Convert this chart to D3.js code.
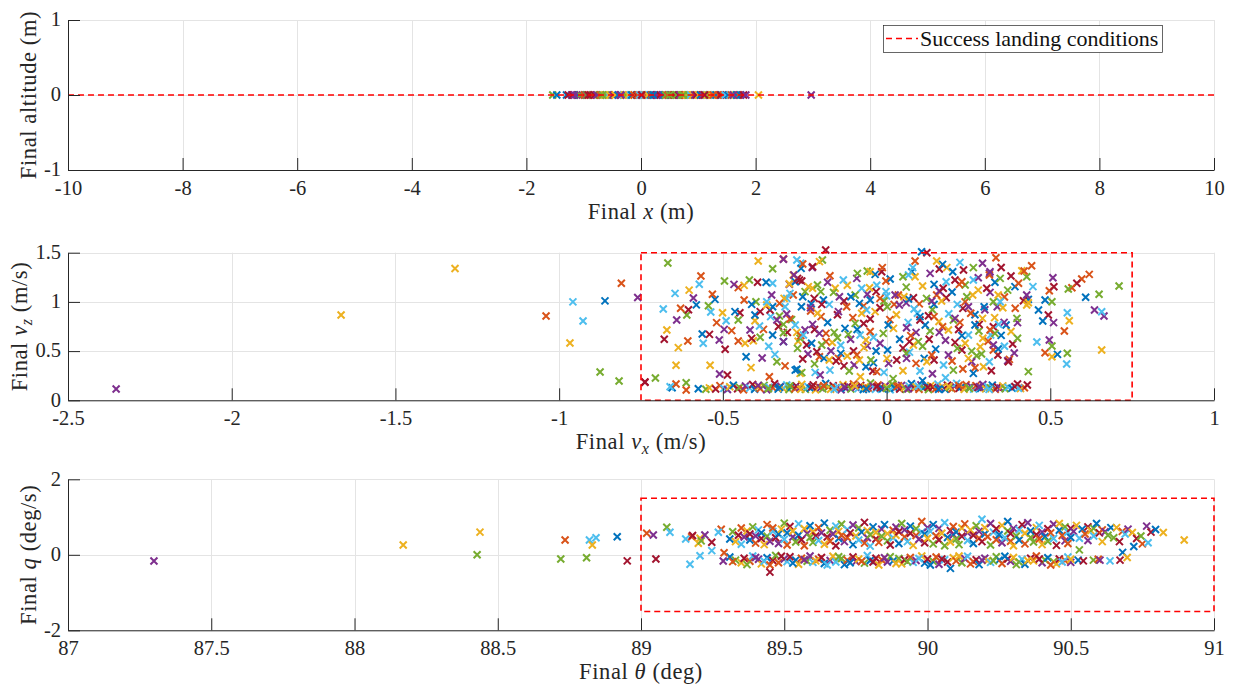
<!DOCTYPE html>
<html>
<head>
<meta charset="utf-8">
<script src="https://cdn.jsdelivr.net/npm/d3@7"></script>
<style>
  html, body { margin: 0; padding: 0; background: #ffffff; }
  svg { display: block; }
  svg text { font-family: "Liberation Serif", "Times New Roman", serif; }
</style>
</head>
<body>
<svg id="fig" width="1238" height="687"></svg>
<script>
// ---------------------------------------------------------------
// Monte Carlo landing runs: final states
// ---------------------------------------------------------------

// Final horizontal position (m); final altitude is 0 for every run
const finalX = [-1.30,-1.27,-1.21,-1.19,-1.12,-1.08,-1.06,-0.99,-0.95,-0.94,-0.88,-0.83,-0.81,-0.77,-0.71,-0.70,-0.64,-0.61,-0.57,-0.55,-0.49,-0.46,-0.45,-0.40,-0.36,-0.31,-0.29,-0.26,-0.22,-0.18,-0.16,-0.12,-0.07,-0.05,-0.02,0.03,0.04,0.09,0.12,0.17,0.19,0.24,0.27,0.28,0.33,0.38,0.41,0.43,0.47,0.52,0.55,0.58,0.62,0.66,0.68,0.71,0.77,0.80,0.83,0.86,0.91,0.94,0.97,1.01,1.04,1.09,1.13,1.15,1.19,1.23,1.28,1.31,1.36,1.39,1.44,1.47,1.52,1.56,1.58,1.63,1.67,1.71,1.74,1.79,1.83,-0.92,-0.35,0.21,0.74,1.26,-1.16,-0.67,0.01,0.50,1.11,1.61];
// [x, colour index]
const finalXOutliers = [[-1.54,4],[-1.47,0],[2.05,2],[2.97,3]];

// Final velocities: [vx, vz] (m/s)
const velocityCloud = [
[-0.532,1.077],[-0.524,1.026],[-0.544,0.961],[-0.537,0.897],[-0.603,1.12],[-0.59,1.04],[-0.581,0.97],[-0.605,0.92],[-0.629,0.935],[-0.682,0.928],[-0.641,0.816],[-0.61,0.867],
[-0.607,0.603],[-0.636,0.535],[-0.563,0.674],[-0.541,0.67],[-0.56,0.579],[-0.511,0.613],[-0.643,0.166],[-0.612,0.179],[-0.738,0.183],[-0.655,0.128],
[-0.392,1.416],[-0.315,1.433],[-0.274,1.426],[-0.256,1.385],[-0.226,1.358],[-0.205,1.409],[-0.348,1.337],[-0.261,1.341],[-0.495,1.212],[-0.466,1.178],[-0.453,1.145],[-0.435,1.168],[-0.394,1.199],[-0.368,1.199],[-0.348,1.189],[-0.419,1.222],[-0.297,1.185],[-0.283,1.273],[-0.266,1.222],
[-0.435,1.019],[-0.412,0.975],[-0.399,1.002],[-0.366,1.002],[-0.366,0.968],[-0.351,1.07],[-0.348,0.951],[-0.356,0.917],[-0.327,0.985],[-0.354,0.85],[-0.335,0.816],[-0.327,0.857],[-0.519,0.789],[-0.501,0.89],[-0.463,0.901],[-0.448,0.89],[-0.49,0.809],[-0.496,0.721],[-0.473,0.708],[-0.453,0.816],[-0.386,0.901],[-0.402,0.867],[-0.402,0.809],[-0.417,0.714],[-0.388,0.755],[-0.376,0.721],[-0.412,0.629],[-0.407,0.606],[-0.386,0.64],[-0.348,0.663],[-0.315,0.687],[-0.315,0.596],[-0.453,0.602],[-0.432,0.579],[-0.493,0.518],[-0.429,0.443],[-0.341,0.467],[-0.335,0.392],[-0.414,0.332],[-0.51,0.267],[-0.486,0.257],[-0.358,0.24],[-0.274,0.315],[-0.259,0.281],[-0.295,1.087],[-0.313,1.036],[-0.305,0.877],
[0.107,1.51],[0.123,1.5],[-0.315,1.436],[-0.262,1.392],[-0.227,1.348],[-0.196,1.426],[0.087,1.415],[0.153,1.415],[0.171,1.381],[0.161,1.334],[0.224,1.402],[0.293,1.392],[0.334,1.449],[0.265,1.348],[0.235,1.324],[0.202,1.307],[0.184,1.348],[0.316,1.307],[0.08,1.348],[-0.013,1.348],[-0.015,1.307],[-0.05,1.307],[-0.059,1.314],[-0.035,1.28],[-0.089,1.29],[-0.091,1.239],[-0.173,1.266],[-0.285,1.273],[-0.272,1.239],[-0.279,1.205],[-0.132,1.222],[-0.211,1.171],[-0.239,1.155],[-0.297,1.178],[-0.259,1.212],[-0.002,1.212],[0.011,1.232],[0.05,1.256],[0.067,1.273],[0.087,1.256],[0.133,1.29],[0.077,1.307],[0.209,1.222],[0.23,1.205],[0.265,1.222],[0.28,1.246],[0.347,1.239],[0.314,1.273],[0.11,1.161],[0.145,1.178],[0.173,1.138],[0.182,1.205],[0.161,1.111],[0.222,1.178],[0.24,1.171],[0.306,1.138],[0.331,1.199],[0.341,1.07],[0.316,1.097],
[-0.305,1.036],[-0.285,1.07],[-0.221,1.036],[-0.226,1.138],[-0.249,1.104],[-0.256,1.053],[-0.201,1.104],[-0.232,0.941],[-0.232,0.907],[-0.211,0.884],[-0.198,0.975],[-0.193,1.019],[-0.175,0.975],[-0.162,1.097],[-0.157,1.138],[-0.144,1.053],[-0.13,1.009],[-0.122,0.951],[-0.109,1.053],[-0.096,1.07],[-0.076,1.138],[-0.052,1.144],[-0.059,1.077],[-0.05,1.019],[-0.032,1.104],[-0.02,1.036],[-0.002,1.104],[0.026,1.07],[-0.008,1.009],[0.036,1.07],[0.053,1.053],[0.067,1.029],[0.082,1.043],[0.084,0.928],[0.039,0.968],[0.023,0.975],[0.002,0.951],[-0.02,0.941],[-0.083,0.985],[-0.076,0.884],[-0.147,0.901],[-0.061,0.917],[-0.103,0.84],[-0.05,0.826],[-0.035,0.901],[-0.096,0.782],[-0.127,0.731],
[0.122,1.036],[0.138,1.009],[0.153,1.07],[0.168,1.009],[0.182,1.043],[0.145,0.975],[0.216,0.975],[0.245,1.053],[0.263,1.07],[0.25,0.951],[0.233,0.934],[0.257,0.884],[0.298,0.951],[0.326,1.002],[0.347,1.002],[0.355,0.941],[0.338,0.951],[0.102,0.85],[0.128,0.86],[0.145,0.85],[0.094,0.884],[0.209,0.833],[0.204,0.816],[0.224,0.792],[0.293,0.833],[0.27,0.765],[0.283,0.772],[0.342,0.772],[0.359,0.792],[0.316,0.714],[0.331,0.68],[0.102,0.816],[0.005,0.765],[0.021,0.731],[0.061,0.738],[0.066,0.792],[0.074,0.657],[0.07,0.596],[0.082,0.562],[0.097,0.596],[0.118,0.765],[0.133,0.704],[0.161,0.69],[0.171,0.748],[0.189,0.714],[0.209,0.589],[0.23,0.657],[0.25,0.663],[0.216,0.528],[0.25,0.426],[0.26,0.392],[0.23,0.511],[0.233,0.318],[0.265,0.274],[0.275,0.453],[0.314,0.392],[0.296,0.341],[0.326,0.562],[0.341,0.521],[0.372,0.392],[0.326,0.511],
[0.174,0.358],[0.189,0.46],[0.204,0.307],[0.138,0.46],[0.123,0.392],[0.115,0.426],[0.145,0.409],[0.102,0.297],[0.061,0.426],[0.09,0.375],[0.06,0.477],[0.031,0.409],[0.003,0.511],[0.001,0.426],[0.006,0.375],[-0.008,0.284],[-0.03,0.291],[-0.042,0.297],[-0.083,0.409],[-0.048,0.409],[-0.063,0.341],[-0.114,0.297],[-0.099,0.358],[-0.091,0.46],[-0.069,0.535],[-0.101,0.501],[-0.032,0.501],[-0.081,0.663],[-0.117,0.67],[-0.063,0.612],[-0.059,0.555],[-0.154,0.399],[-0.147,0.426],[-0.14,0.477],[-0.15,0.636],[-0.173,0.307],[-0.175,0.409],[-0.17,0.501],[-0.191,0.426],[-0.213,0.494],[-0.205,0.443],[-0.218,0.284],[-0.203,0.257],[-0.198,0.562],[-0.185,0.596],[-0.166,0.588],[-0.229,0.579],[-0.244,0.562],[-0.254,0.663],[-0.249,0.714],[-0.262,0.657],[-0.272,0.528],[-0.256,0.419],[-0.279,0.307],[-0.264,0.274],[-0.226,0.772],[-0.279,0.765],[-0.295,0.826],[-0.303,0.69],[-0.274,0.69],[-0.315,0.772],[-0.315,0.596],[-0.264,0.63],[-0.205,0.68],[-0.185,0.68],[0.294,0.63],[0.326,0.748],[0.365,0.765],[0.318,0.663],[0.282,0.704],[0.286,0.545],
[0.314,1.29],[0.511,1.154],[0.497,1.114],[0.484,1.019],[0.505,1.002],[0.552,0.89],[0.558,0.809],[0.51,0.789],[0.477,0.806],[0.494,0.867],[0.543,0.704],[0.459,0.593],[0.497,0.613],[0.505,0.552],[0.484,0.484],[0.505,0.443],[0.522,0.467],[0.4,0.166],[0.403,0.122],[0.37,0.402],[0.375,0.416],[0.4,0.63],[0.385,0.572],[0.464,0.918],[0.433,0.992],[0.428,1.07],[0.447,1.155],[0.403,1.189],[0.38,1.263],[0.413,1.317],[0.428,1.256],[0.392,1.155],[0.398,0.833],[0.4,0.789],[0.393,0.935],[0.428,0.968],[0.418,1.012],[0.433,1.026],
[-0.31,0.95],[-0.29,0.82],[-0.27,0.6],[-0.24,0.47],[-0.22,0.72],[-0.2,0.85],[-0.18,0.79],[-0.16,0.69],[-0.14,0.56],[-0.12,0.45],[-0.11,0.62],[-0.09,0.72],[-0.07,0.78],[-0.05,0.7],[-0.04,0.64],[-0.02,0.58],[-0.01,0.68],[0.01,0.82],[0.03,0.87],[0.04,0.62],[0.05,0.53],[0.07,0.49],[0.09,0.69],[0.1,0.98],[0.11,0.55],[0.13,0.62],[0.15,0.52],[0.16,0.8],[0.18,0.61],[0.19,0.88],[0.2,0.4],[0.22,0.72],[0.24,0.58],[0.26,0.5],[0.27,0.87],[0.29,0.47],[0.3,0.92],[0.31,0.6],[0.33,0.84],[0.34,0.46],[0.35,0.66],[0.36,0.55],[0.37,1.12],[0.38,0.7],[0.39,0.48],[0.35,1.35],[0.36,1.05],[0.2,1.1],[0.06,1.15],[-0.03,1.17],[-0.12,1.17],[-0.18,1.2],[-0.23,0.98],[-0.15,0.87],[-0.07,0.96],[0.0,1.06],[0.06,0.99],[0.14,0.92],[0.24,1.0],[0.28,1.12],[-0.26,0.95],[-0.33,0.75],[-0.36,0.55],[-0.38,0.43],[-0.31,0.35],[-0.22,0.37],[-0.13,0.35],[-0.04,0.38],[0.05,0.3],[0.14,0.27],[0.18,0.23],[0.27,0.33],[0.32,0.3],[-0.08,0.24],[0.02,0.22],[0.11,0.2]
];

// Low-speed touchdowns near the ground: [vx, vz]
const velocityBand = [
[-0.575,0.118],[-0.552,0.112],[-0.541,0.126],[-0.522,0.115],[-0.509,0.149],[-0.497,0.121],[-0.486,0.109],[-0.479,0.138],[-0.468,0.153],[-0.455,0.117],[-0.449,0.131],[-0.437,0.108],[-0.431,0.145],[-0.418,0.124],[-0.409,0.161],[-0.403,0.113],[-0.391,0.136],[-0.386,0.119],[-0.374,0.152],[-0.366,0.107],[-0.359,0.133],[-0.347,0.126],[-0.342,0.168],[-0.331,0.114],[-0.323,0.142],[-0.316,0.121],[-0.305,0.155],[-0.298,0.109],[-0.291,0.135],[-0.28,0.118],[-0.276,0.147],[-0.264,0.127],[-0.259,0.162],[-0.248,0.111],[-0.24,0.139],[-0.233,0.122],[-0.224,0.157],[-0.217,0.106],[-0.209,0.144],[-0.201,0.129],[-0.195,0.116],[-0.186,0.171],[-0.178,0.134],[-0.171,0.112],[-0.163,0.148],[-0.155,0.125],[-0.149,0.139],[-0.139,0.108],[-0.133,0.158],[-0.124,0.121],[-0.118,0.143],[-0.109,0.115],[-0.101,0.165],[-0.094,0.131],[-0.087,0.119],[-0.079,0.151],[-0.071,0.109],[-0.065,0.137],[-0.056,0.124],[-0.049,0.176],[-0.041,0.142],[-0.034,0.113],[-0.026,0.155],[-0.019,0.127],[-0.012,0.118],[-0.004,0.146],[0.003,0.133],[0.011,0.107],[0.017,0.163],[0.025,0.122],[0.032,0.139],[0.04,0.115],[0.046,0.152],[0.055,0.128],[0.061,0.111],[0.069,0.144],[0.076,0.169],[0.084,0.121],[0.09,0.136],[0.099,0.113],[0.105,0.157],[0.113,0.126],[0.12,0.142],[0.128,0.109],[0.135,0.149],[0.141,0.131],[0.15,0.118],[0.157,0.164],[0.164,0.124],[0.171,0.138],[0.179,0.111],[0.186,0.153],[0.193,0.129],[0.2,0.117],[0.208,0.145],[0.214,0.172],[0.222,0.123],[0.229,0.136],[0.237,0.112],[0.243,0.158],[0.251,0.127],[0.258,0.141],[0.266,0.114],[0.273,0.149],[0.279,0.131],[0.288,0.121],[0.294,0.161],[0.302,0.117],[0.309,0.138],[0.317,0.126],[0.323,0.154],[0.332,0.113],[0.339,0.135],[0.347,0.122],[0.355,0.147],[0.362,0.118],[0.371,0.131],[0.383,0.124],[0.392,0.141],[0.409,0.119],[0.421,0.128],
[-0.392,0.152],[-0.361,0.118],[-0.327,0.131],[-0.296,0.146],[-0.262,0.113],[-0.228,0.137],[-0.192,0.148],[-0.16,0.112],[-0.128,0.133],[-0.097,0.147],[-0.062,0.116],[-0.03,0.138],[0.0,0.121],[0.036,0.149],[0.066,0.117],[0.097,0.142],[0.126,0.133],[0.159,0.112],[0.19,0.141],[0.221,0.15],[0.253,0.119],[0.284,0.138],[0.313,0.111]
];

// Isolated runs: [vx, vz, colour index]
const velocityOutliers = [
[-2.353,0.115,3],[-1.666,0.867,2],[-1.318,1.34,2],[-1.04,0.857,1],[-0.958,1.0,5],[-0.927,0.806,5],[-0.967,0.582,2],[-0.86,1.01,0],[-0.875,0.288,4],[-0.817,0.196,4],[-0.81,1.19,1],[-0.76,1.045,3],[-0.738,0.186,6],
[-0.668,1.395,4],[-0.567,1.263,1],[-0.572,1.18,5],[-0.646,1.087,5],[-0.671,0.714,2],[-0.679,0.62,6],[-0.643,0.356,2],[-0.539,0.356,2],[-0.706,0.227,4],[-0.661,0.138,5],[-0.612,0.105,1],[-0.186,1.527,6],
[0.71,1.161,4],[0.657,0.511,2],[0.664,0.857,3],[0.635,0.918,3],[0.657,0.9,5],[0.619,1.28,1],[0.596,1.233,1],[0.581,1.189,6],[0.566,1.144,1],[0.555,1.131,4],[0.649,1.077,4],[0.608,1.047,0],[0.55,0.369,5],[0.552,0.478,4],[0.433,0.291,4],[0.43,0.155,6],[0.508,1.246,3],[0.443,1.368,1],[0.42,1.314,1]
];

// Final pitch angle and pitch rate: [theta (deg), q (deg/s)]
const attitudeUpper = [
[89.31,0.42],[89.32,0.61],[89.33,0.35],[89.34,0.52],[89.35,0.71],[89.35,0.28],[89.36,0.47],[89.37,0.63],[89.38,0.39],[89.38,0.55],[89.39,0.74],[89.4,0.31],[89.4,0.5],
[89.41,0.66],[89.42,0.43],[89.42,0.58],[89.43,0.27],[89.44,0.8],[89.44,0.49],[89.45,0.36],[89.46,0.62],[89.46,0.71],[89.47,0.45],[89.48,0.55],[89.48,0.3],[89.49,0.68],[89.5,0.41],[89.5,0.84],
[89.51,0.58],[89.51,0.26],[89.52,0.75],[89.53,0.47],[89.53,0.63],[89.54,0.34],[89.55,0.82],[89.55,0.52],[89.56,0.4],[89.57,0.69],[89.57,0.24],[89.58,0.56],[89.59,0.46],[89.59,0.77],[89.6,0.33],[89.6,0.61],
[89.61,0.5],[89.62,0.72],[89.62,0.38],[89.63,0.58],[89.64,0.28],[89.64,0.84],[89.65,0.47],[89.66,0.65],[89.66,0.36],[89.67,0.55],[89.68,0.76],[89.68,0.24],[89.69,0.43],[89.69,0.62],[89.7,0.52],[89.7,0.81],
[89.71,0.35],[89.72,0.67],[89.72,0.46],[89.73,0.58],[89.74,0.27],[89.74,0.79],[89.75,0.5],[89.76,0.39],[89.76,0.71],[89.77,0.6],[89.78,0.31],[89.78,0.86],[89.79,0.45],[89.79,0.64],[89.8,0.53],[89.8,0.23],
[89.81,0.74],[89.82,0.42],[89.82,0.59],[89.83,0.33],[89.84,0.68],[89.84,0.49],[89.85,0.8],[89.86,0.37],[89.86,0.56],[89.87,0.26],[89.88,0.65],[89.88,0.45],[89.89,0.73],[89.89,0.52],[89.9,0.3],[89.9,0.61],
[89.91,0.83],[89.92,0.47],[89.92,0.66],[89.93,0.35],[89.94,0.57],[89.94,0.76],[89.95,0.25],[89.96,0.51],[89.96,0.69],[89.97,0.41],[89.98,0.6],[89.98,0.88],[89.99,0.32],[89.99,0.55],[90.0,0.72],[90.0,0.44],
[90.01,0.62],[90.02,0.29],[90.02,0.8],[90.03,0.5],[90.04,0.39],[90.04,0.7],[90.05,0.57],[90.06,0.24],[90.06,0.85],[90.07,0.46],[90.08,0.64],[90.08,0.34],[90.09,0.75],[90.09,0.53],[90.1,0.42],[90.1,0.6],
[90.11,0.27],[90.12,0.71],[90.12,0.49],[90.13,0.82],[90.14,0.38],[90.14,0.58],[90.15,0.66],[90.16,0.3],[90.16,0.52],[90.17,0.77],[90.18,0.44],[90.18,0.62],[90.19,0.94],[90.19,0.35],[90.2,0.55],[90.2,0.72],
[90.21,0.48],[90.22,0.26],[90.22,0.83],[90.23,0.6],[90.24,0.4],[90.24,0.69],[90.25,0.53],[90.26,0.32],[90.26,0.78],[90.27,0.45],[90.28,0.63],[90.28,0.88],[90.29,0.36],[90.29,0.56],[90.3,0.7],[90.3,0.24],
[90.31,0.5],[90.32,0.66],[90.32,0.39],[90.33,0.8],[90.34,0.57],[90.34,0.29],[90.35,0.85],[90.36,0.46],[90.36,0.63],[90.37,0.34],[90.38,0.72],[90.38,0.53],[90.39,0.42],[90.39,0.78],[90.4,0.6],[90.4,0.27],
[90.41,0.48],[90.42,0.69],[90.42,0.36],[90.43,0.58],[90.44,0.81],[90.44,0.43],[90.45,0.25],[90.46,0.65],[90.46,0.83],[90.47,0.51],[90.48,0.74],[90.48,0.37],[90.49,0.6],[90.49,0.3],[90.5,0.7],[90.5,0.46],
[90.51,0.62],[90.52,0.78],[90.53,0.44],[90.53,0.13],[90.54,0.68],[90.55,0.55],[90.56,0.74],[90.56,0.38],[90.57,0.64],[90.58,0.7],[90.58,0.5],[90.59,0.83],[90.6,0.58],[90.61,0.35],[90.61,0.66],
[90.62,0.61],[90.63,0.52],[90.64,0.72],[90.65,0.45],[90.66,0.72],[90.67,0.35],[90.68,0.62],[90.69,0.55],[90.7,0.68],[90.715,0.59],[90.72,0.22],[90.73,0.43],[90.745,0.5],[90.75,0.29],[90.765,0.76],[90.77,0.32],[90.78,0.6],[90.796,0.67],[90.823,0.59]
];

const attitudeLower = [
[89.31,-0.06],[89.33,-0.14],[89.35,-0.21],[89.36,-0.09],[89.38,-0.17],[89.39,-0.03],[89.41,-0.12],[89.42,-0.24],[89.44,-0.08],[89.46,-0.15],[89.47,-0.02],[89.48,-0.21],[89.5,-0.11],[89.51,-0.18],[89.52,-0.05],[89.54,-0.14],[89.55,-0.25],[89.56,-0.09],[89.58,-0.17],[89.59,-0.03],[89.6,-0.2],[89.62,-0.12],[89.63,-0.07],[89.64,-0.23],[89.66,-0.15],[89.67,-0.04],[89.68,-0.19],[89.7,-0.1],[89.71,-0.26],[89.72,-0.14],[89.74,-0.06],[89.75,-0.18],[89.76,-0.11],[89.78,-0.22],[89.79,-0.02],[89.8,-0.15],[89.82,-0.09],[89.83,-0.27],[89.84,-0.13],[89.86,-0.19],[89.87,-0.05],[89.88,-0.16],[89.9,-0.1],[89.91,-0.24],[89.92,-0.13],[89.94,-0.07],[89.95,-0.2],[89.96,-0.15],[89.98,-0.03],[89.99,-0.22],[90.0,-0.11],[90.02,-0.17],[90.03,-0.06],[90.04,-0.25],[90.06,-0.13],[90.07,-0.19],[90.08,-0.36],[90.09,-0.08],[90.1,-0.16],[90.12,-0.21],[90.13,-0.1],[90.14,-0.04],[90.16,-0.18],[90.17,-0.13],[90.18,-0.26],[90.2,-0.09],[90.21,-0.15],[90.22,-0.2],[90.24,-0.05],[90.25,-0.14],[90.26,-0.23],[90.28,-0.11],[90.29,-0.17],[90.3,-0.07],[90.32,-0.19],[90.33,-0.12],[90.34,-0.25],[90.36,-0.09],[90.37,-0.16],[90.38,-0.03],[90.4,-0.21],[90.41,-0.13],[90.42,-0.08],[90.44,-0.18],[90.45,-0.24],[90.46,-0.11],[90.48,-0.15],[90.49,-0.06],[90.5,-0.2],[90.5,-0.12],[90.526,-0.14],[90.544,-0.16],[90.579,-0.14],[90.596,-0.12],[90.602,-0.14],[90.637,-0.16],[90.672,-0.14],[90.681,0.065],[90.697,-0.07],
[89.32,-0.18],[89.37,-0.26],[89.4,-0.07],[89.43,-0.17],[89.45,-0.27],[89.49,-0.04],[89.53,-0.22],[89.57,-0.13],[89.61,-0.16],[89.65,-0.27],[89.69,-0.05],[89.73,-0.21],[89.77,-0.17],[89.81,-0.19],[89.85,-0.08],[89.89,-0.23],[89.93,-0.18],[89.97,-0.1],[90.01,-0.27],[90.05,-0.11],[90.11,-0.03],[90.15,-0.24],[90.19,-0.14],[90.23,-0.16],[90.27,-0.04],[90.31,-0.26],[90.35,-0.15],[90.39,-0.11],[90.43,-0.27],[90.47,-0.19]
];

// Isolated runs: [theta, q, colour index]
const attitudeOutliers = [
[87.3,-0.164,3],[88.17,0.26,2],[88.438,0.6,2],[88.428,0.0,4],[88.72,-0.11,4],[88.735,0.39,1],[88.82,0.39,5],[88.843,0.45,5],[88.83,0.26,2],[88.81,-0.08,4],[88.917,0.48,0],[88.952,-0.16,6],
[89.02,0.57,1],[89.043,0.525,3],[89.09,0.728,4],[89.101,0.596,5],[89.052,-0.111,6],[89.156,0.419,5],[89.177,0.48,1],[89.18,0.51,6],[89.206,0.437,2],[89.2,0.305,2],[89.21,0.37,4],[89.223,0.525,3],[89.247,0.331,6],[89.247,0.11,5],[89.206,-0.024,5],[89.171,-0.252,5],[89.28,0.675,1],[89.27,0.596,5],[89.29,0.056,1],[89.287,-0.164,3],[89.45,-0.46,6],[90.896,0.39,2]
];

// Success landing conditions
const successAltitude = 0;
const successVx = [-0.75, 0.75];
const successVz = [0, 1.5];
const successTheta = [89, 91];
const successQ = [-1.5, 1.5];

// Axis ticks
const xTicksPos = [-10,-8,-6,-4,-2,0,2,4,6,8,10];
const yTicksAlt = [-1,0,1];
const xTicksVx = [-2.5,-2,-1.5,-1,-0.5,0,0.5,1];
const yTicksVz = [0,0.5,1,1.5];
const xTicksTheta = [87,87.5,88,88.5,89,89.5,90,90.5,91];
const yTicksQ = [-2,0,2];

// MATLAB default colour order and a run-order lookup into it
const palette = ["#0072BD","#D95319","#EDB120","#7E2F8E","#77AC30","#4DBEEE","#A2142F"];
const colourSequence = [0,4,2,6,1,5,3,2,0,6,4,1,3,5,6,0,2,1,4,3,5,1,6,0,3,2,5,4,0,1,6,3,2,4,5,0,6,2,1,3,4];

// ---------------------------------------------------------------
const FONT = "'Liberation Serif', 'Times New Roman', serif";
const svg = d3.select("#fig").attr("font-family", FONT);
const plotLeft = 68, plotRight = 1214;
const textColour = "#262626";
const gridColour = "#e4e4e4";
const red = "#ff0000";

function bulkPoints(rows) {
  return rows.map((d, i) => ({ x: d[0], y: d[1], c: palette[colourSequence[i % colourSequence.length]] }));
}
function fixedPoints(rows) {
  return rows.map(d => ({ x: d[0], y: d[1], c: palette[d[2]] }));
}

// Writes a label made of plain, italic and subscript pieces
function richText(textSel, parts) {
  parts.forEach(p => {
    const t = textSel.append("tspan").text(p.t);
    if (p.i) t.attr("font-style", "italic");
    if (p.sub) t.attr("font-size", 16).attr("dy", 5);
    if (p.after) t.attr("dy", -5);
  });
}

function drawPanel(cfg) {
  const g = svg.append("g");
  const x = d3.scaleLinear().domain(cfg.xDomain).range([plotLeft, plotRight]);
  const y = d3.scaleLinear().domain(cfg.yDomain).range([cfg.bottom, cfg.top]);

  // grid
  g.append("g").selectAll("line").data(cfg.xTicks).join("line")
    .attr("x1", d => Math.round(x(d)) + 0.5).attr("x2", d => Math.round(x(d)) + 0.5)
    .attr("y1", cfg.top).attr("y2", cfg.bottom)
    .attr("stroke", gridColour).attr("stroke-width", 1);
  g.append("g").selectAll("line").data(cfg.yTicks).join("line")
    .attr("x1", plotLeft).attr("x2", plotRight)
    .attr("y1", d => Math.round(y(d)) + 0.5).attr("y2", d => Math.round(y(d)) + 0.5)
    .attr("stroke", gridColour).attr("stroke-width", 1);

  // markers
  const s = 3.5;
  g.append("g").selectAll("path").data(cfg.points).join("path")
    .attr("d", d => {
      const px = x(d.x), py = y(d.y);
      return `M${px - s},${py - s}L${px + s},${py + s}M${px - s},${py + s}L${px + s},${py - s}`;
    })
    .attr("stroke", d => d.c).attr("stroke-width", 2).attr("fill", "none");

  // success region
  cfg.success(g, x, y);

  // axes
  const xAxis = d3.axisBottom(x).tickValues(cfg.xTicks).tickFormat(d => String(d))
    .tickSizeInner(-12).tickSizeOuter(0).tickPadding(10);
  const yAxis = d3.axisLeft(y).tickValues(cfg.yTicks).tickFormat(d => String(d))
    .tickSizeInner(-12).tickSizeOuter(0).tickPadding(7);
  const gx = g.append("g").attr("transform", `translate(0,${cfg.bottom})`).call(xAxis);
  const gy = g.append("g").attr("transform", `translate(${plotLeft},0)`).call(yAxis);
  [gx, gy].forEach(a => {
    a.attr("font-family", FONT).attr("font-size", 20.5);
    a.select(".domain").attr("stroke", textColour);
    a.selectAll(".tick line").attr("stroke", textColour);
    a.selectAll(".tick text").attr("fill", textColour).attr("font-family", FONT);
  });
  gy.selectAll(".tick text").attr("dy", "0.28em");

  // axis titles
  const xl = g.append("text").attr("x", (plotLeft + plotRight) / 2).attr("y", cfg.bottom + 49)
    .attr("text-anchor", "middle").attr("font-family", FONT).attr("font-size", 22.5)
    .attr("letter-spacing", "0.6px").attr("fill", textColour);
  richText(xl, cfg.xLabel);
  const yl = g.append("text")
    .attr("transform", `translate(${cfg.yLabelX},${(cfg.top + cfg.bottom) / 2}) rotate(-90)`)
    .attr("text-anchor", "middle").attr("font-family", FONT).attr("font-size", 22.5)
    .attr("letter-spacing", "0.6px").attr("fill", textColour);
  richText(yl, cfg.yLabel);
  return { g, x, y };
}

function dashed(sel) {
  return sel.attr("stroke", red).attr("stroke-width", 1.6).attr("stroke-dasharray", "6,4").attr("fill", "none");
}

// Panel 1: final position
drawPanel({
  top: 20, bottom: 170,
  xDomain: [-10, 10], yDomain: [-1, 1],
  xTicks: xTicksPos, yTicks: yTicksAlt,
  points: finalX.map((v, i) => ({ x: v, y: successAltitude, c: palette[colourSequence[(i * 3) % colourSequence.length]] }))
    .concat(finalXOutliers.map(d => ({ x: d[0], y: successAltitude, c: palette[d[1]] }))),
  success: (g, x, y) => {
    dashed(g.append("line").attr("x1", x(-10)).attr("x2", x(10))
      .attr("y1", y(successAltitude)).attr("y2", y(successAltitude)));
  },
  xLabel: [{ t: "Final " }, { t: "x", i: true }, { t: " (m)" }],
  yLabel: [{ t: "Final altitude (m)" }],
  yLabelX: 36
});

// legend
const lg = svg.append("g");
lg.append("rect").attr("x", 883.5).attr("y", 25.5).attr("width", 279).attr("height", 27)
  .attr("fill", "#ffffff").attr("stroke", "#262626").attr("stroke-width", 0.7);
dashed(lg.append("line").attr("x1", 886).attr("x2", 918).attr("y1", 38.5).attr("y2", 38.5));
lg.append("text").attr("x", 920).attr("y", 45.5).attr("font-family", FONT).attr("font-size", 22).attr("fill", "#111")
  .text("Success landing conditions");

// Panel 2: final velocities
drawPanel({
  top: 252.7, bottom: 400.3,
  xDomain: [-2.5, 1], yDomain: [0, 1.5],
  xTicks: xTicksVx, yTicks: yTicksVz,
  points: bulkPoints(velocityBand).concat(bulkPoints(velocityCloud.slice().reverse())).concat(fixedPoints(velocityOutliers)),
  success: (g, x, y) => {
    dashed(g.append("rect").attr("x", x(successVx[0])).attr("y", y(successVz[1]))
      .attr("width", x(successVx[1]) - x(successVx[0])).attr("height", y(successVz[0]) - y(successVz[1])));
  },
  xLabel: [{ t: "Final " }, { t: "v", i: true }, { t: "x", i: true, sub: true }, { t: " (m/s)", after: true }],
  yLabel: [{ t: "Final " }, { t: "v", i: true }, { t: "z", i: true, sub: true }, { t: " (m/s)", after: true }],
  yLabelX: 27
});

// Panel 3: final attitude
drawPanel({
  top: 479.3, bottom: 630.3,
  xDomain: [87, 91], yDomain: [-2, 2],
  xTicks: xTicksTheta, yTicks: yTicksQ,
  points: bulkPoints(attitudeLower).concat(bulkPoints(attitudeUpper)).concat(fixedPoints(attitudeOutliers)),
  success: (g, x, y) => {
    dashed(g.append("rect").attr("x", x(successTheta[0])).attr("y", y(successQ[1]))
      .attr("width", x(successTheta[1]) - x(successTheta[0])).attr("height", y(successQ[0]) - y(successQ[1])));
  },
  xLabel: [{ t: "Final " }, { t: "θ", i: true }, { t: " (deg)" }],
  yLabel: [{ t: "Final " }, { t: "q", i: true }, { t: " (deg/s)" }],
  yLabelX: 36
});
</script>
</body>
</html>
